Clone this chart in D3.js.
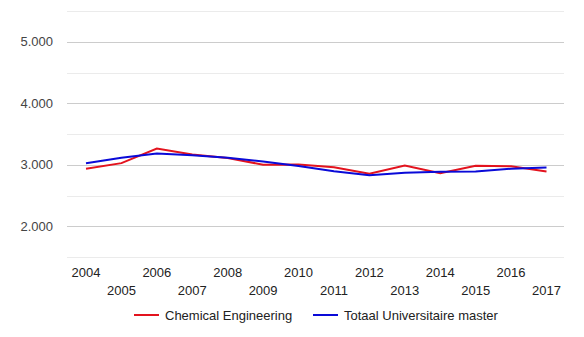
<!doctype html>
<html lang="en">
<head>
  <meta charset="utf-8">
  <title>Chemical Engineering</title>
  <style>
    body { margin: 0; background: #fff; }
    svg { display: block; font-family: Arial, "Liberation Sans", sans-serif; }
  </style>
</head>
<body>
  <script src="https://cdn.jsdelivr.net/npm/d3@7/dist/d3.min.js"></script>
  <svg width="584" height="337"></svg>
  <script>
    var years = [2004, 2005, 2006, 2007, 2008, 2009, 2010, 2011, 2012, 2013, 2014, 2015, 2016, 2017];
    var chemical = [2935, 3026, 3265, 3167, 3110, 3000, 3005, 2960, 2853, 2989, 2864, 2984, 2977, 2891];
    var totaal = [3026, 3114, 3184, 3155, 3115, 3052, 2980, 2895, 2831, 2870, 2886, 2891, 2935, 2956];
    var seriesNames = ["Chemical Engineering", "Totaal Universitaire master"];
    var seriesColors = ["#e3131e", "#0a0ad8"];
    var yTicks = [2000, 3000, 4000, 5000];

    var svg = d3.select("svg");
    var x = d3.scaleLinear().domain([2004, 2017]).range([86, 546.5]);
    var y = d3.scaleLinear().domain([1500, 5500]).range([257, 11]);
    var fmt = d3.format(",.0f");
    var nl = v => fmt(v).replace(/,/g, "."); // dutch thousands dot

    // gridlines, minor every 500
    svg.append("g").selectAll("line")
      .data(d3.range(1500, 5501, 500))
      .enter().append("line")
        .attr("x1", 67).attr("x2", 564)
        .attr("y1", d => Math.round(y(d)) + 0.5).attr("y2", d => Math.round(y(d)) + 0.5)
        .style("stroke", d => d % 1000 == 0 ? "#cccccc" : "#ebebeb")
        .style("stroke-width", "1px");

    svg.append("g").selectAll("text")
      .data(yTicks)
      .enter().append("text")
        .attr("x", 53)
        .attr("y", d => y(d) + 4.5)
        .attr("text-anchor", "end")
        .style("font-size", "13px")
        .style("fill", "#444")
        .text(nl);

    // x labels, two staggered rows
    svg.append("g").selectAll("text")
      .data(years)
      .enter().append("text")
        .attr("x", d => x(d))
        .attr("y", (d, i) => i % 2 == 0 ? 277 : 294.5)
        .attr("text-anchor", "middle")
        .style("font-size", "13px")
        .style("fill", "#222")
        .text(d => d);

    var line = d3.line()
      .x((d, i) => x(years[i]))
      .y(d => y(d));

    [chemical, totaal].forEach((s, k) => {
      svg.append("path")
        .attr("d", line(s))
        .style("fill", "none")
        .style("stroke", seriesColors[k])
        .style("stroke-width", "2px");
    });

    // legend
    var legendX = [134, 313];
    var lg = svg.append("g").selectAll("g")
      .data(seriesNames)
      .enter().append("g")
        .attr("transform", (d, i) => "translate(" + legendX[i] + ",315)");
    lg.append("line")
      .attr("x1", 0).attr("x2", 25)
      .style("stroke", (d, i) => seriesColors[i])
      .style("stroke-width", "2px");
    lg.append("text")
      .attr("x", 31).attr("y", 4.5)
      .style("font-size", "13px")
      .style("fill", "#222")
      .text(d => d);
  </script>
</body>
</html>
